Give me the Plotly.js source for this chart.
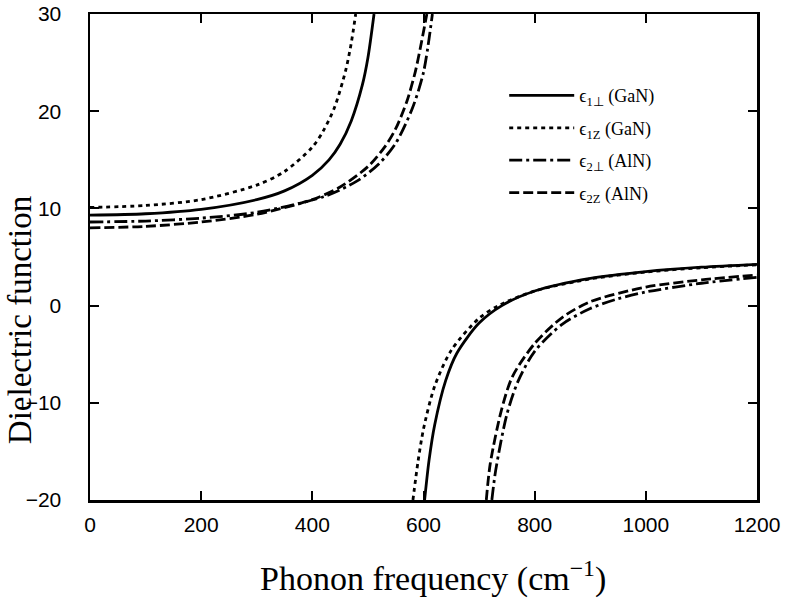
<!DOCTYPE html>
<html>
<head>
<meta charset="utf-8">
<script src="https://cdn.plot.ly/plotly-3.0.1.min.js"></script>
<style>html,body{margin:0;padding:0;background:#fff;}#chart{width:805px;height:598px;}</style>
</head>
<body>
<div id="chart"></div>
<script>
// Phonon frequency (cm^-1) and dielectric function values
// GaN, perpendicular (solid)
const gaPerpLowX = [0, 100, 200, 300, 350, 400, 430, 450, 470, 490, 500, 511];
const gaPerpLowY = [9.3, 9.45, 9.9, 10.9, 11.8, 13.4, 15.0, 16.6, 19.0, 22.7, 25.5, 30];
const gaPerpHighX = [602, 610, 620, 640, 660, 700, 741, 800, 900, 1000, 1100, 1200];
const gaPerpHighY = [-20, -15.9, -12.3, -7.7, -4.9, -1.8, 0, 1.5, 2.8, 3.5, 3.95, 4.25];
// GaN, z (dotted)
const gaZLowX = [0, 100, 200, 300, 350, 400, 420, 440, 460, 470, 478];
const gaZLowY = [10.1, 10.3, 10.9, 12.4, 13.8, 16.3, 18.0, 20.4, 24.2, 27.0, 30];
const gaZHighX = [581, 590, 600, 620, 650, 700, 735, 800, 900, 1000, 1100, 1200];
const gaZHighY = [-20, -16.1, -12.7, -8.3, -4.6, -1.3, 0, 1.5, 2.75, 3.45, 3.9, 4.2];
// AlN, perpendicular (dash-dot)
const alPerpLowX = [0, 100, 200, 300, 420, 480, 520, 550, 580, 600, 616];
const alPerpLowY = [8.6, 8.7, 9.0, 9.6, 11.2, 12.8, 14.6, 16.7, 20.3, 24.0, 30];
const alPerpHighX = [723, 730, 750, 770, 800, 850, 900, 950, 1000, 1100, 1200];
const alPerpHighY = [-20, -16.9, -11.2, -7.8, -4.7, -1.9, -0.3, 0.7, 1.4, 2.3, 2.9];
// AlN, z (dashed)
const alZLowX = [0, 100, 200, 300, 400, 450, 500, 530, 550, 570, 585, 595, 606];
const alZLowY = [8.0, 8.15, 8.6, 9.4, 10.9, 12.2, 14.3, 16.3, 18.2, 21.0, 24.0, 26.7, 30];
const alZHighX = [713, 720, 740, 760, 800, 850, 900, 1000, 1100, 1200];
const alZHighY = [-20, -16.3, -10.8, -7.3, -3.9, -1.2, 0.4, 1.9, 2.65, 3.15];

const seriesNames = ['ϵ<sub>1⊥</sub> (GaN)', 'ϵ<sub>1Z</sub> (GaN)', 'ϵ<sub>2⊥</sub> (AlN)', 'ϵ<sub>2Z</sub> (AlN)'];
const xTicks = [0, 200, 400, 600, 800, 1000, 1200];
const yTicks = [-20, -10, 0, 10, 20, 30];
const xTitle = 'Phonon frequency (cm<sup>−1</sup>)';
const yTitle = 'Dielectric function';

const dashes = ['solid', '4px,4px', '13px,4px,3px,4px', '10px,4px'];
const groups = [
  [gaPerpLowX, gaPerpLowY, gaPerpHighX, gaPerpHighY],
  [gaZLowX, gaZLowY, gaZHighX, gaZHighY],
  [alPerpLowX, alPerpLowY, alPerpHighX, alPerpHighY],
  [alZLowX, alZLowY, alZHighX, alZHighY]
];
const traces = [];
groups.forEach((g, i) => {
  const line = {color: '#000', width: 2.8, dash: dashes[i], shape: 'spline', smoothing: 0.8};
  traces.push({x: g[0], y: g[1], type: 'scatter', mode: 'lines', name: seriesNames[i],
    legendgroup: 'g' + i, showlegend: true, line: line, hoverinfo: 'skip'});
  traces.push({x: g[2], y: g[3], type: 'scatter', mode: 'lines', name: seriesNames[i],
    legendgroup: 'g' + i, showlegend: false, line: line, hoverinfo: 'skip'});
});

const axisCommon = {
  showline: true, linecolor: '#000', linewidth: 2.5, mirror: 'ticks',
  ticks: 'inside', ticklen: 9, tickwidth: 2, tickcolor: '#000',
  showgrid: false, zeroline: false,
  tickfont: {family: 'Liberation Sans, Arial, sans-serif', size: 21, color: '#000'}
};
const serif = 'Liberation Serif, Times New Roman, serif';

const layout = {
  width: 805, height: 598,
  margin: {l: 90, r: 48, t: 14, b: 98},
  paper_bgcolor: '#fff', plot_bgcolor: '#fff',
  showlegend: true,
  xaxis: Object.assign({}, axisCommon, {
    range: [0, 1200], tickvals: xTicks, ticktext: xTicks.map(String),
    ticklabelstandoff: 4
  }),
  yaxis: Object.assign({}, axisCommon, {
    range: [-20, 30], tickvals: yTicks, ticktext: yTicks.map(v => v < 0 ? '−' + Math.abs(v) : String(v)),
    ticklabelstandoff: 22
  }),
  annotations: [
    {text: xTitle, xref: 'paper', yref: 'paper', x: 0.514, y: -0.158,
     xanchor: 'center', yanchor: 'middle', showarrow: false,
     font: {family: serif, size: 34, color: '#000'}},
    {text: yTitle, xref: 'paper', yref: 'paper', x: -0.105, y: 0.370, textangle: -90,
     xanchor: 'center', yanchor: 'middle', showarrow: false,
     font: {family: serif, size: 33, color: '#000'}}
  ],
  legend: {
    x: 0.621, y: 0.87, xanchor: 'left', yanchor: 'top',
    bgcolor: 'rgba(0,0,0,0)', borderwidth: 0,
    traceorder: 'grouped', tracegroupgap: 6, itemwidth: 65,
    font: {family: serif, size: 18, color: '#000'}
  }
};

Plotly.newPlot('chart', traces, layout, {staticPlot: true, displayModeBar: false});
</script>
</body>
</html>
